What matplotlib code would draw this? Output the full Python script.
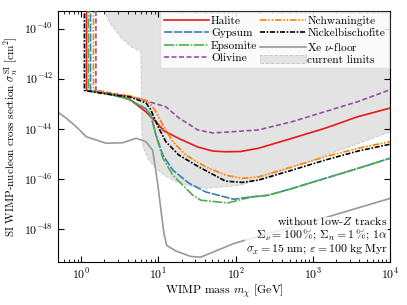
import numpy as np
import matplotlib
matplotlib.use("Agg")
import matplotlib.pyplot as plt
from matplotlib.patches import Patch

plt.rcParams['font.family'] = 'serif'
plt.rcParams['font.serif'] = ['cmr10', 'DejaVu Serif']
plt.rcParams['mathtext.fontset'] = 'cm'
plt.rcParams['axes.formatter.use_mathtext'] = True
plt.rcParams['axes.unicode_minus'] = False

# WIMP masses [GeV] and log10 cross sections [cm^2]
halite_m = [1.17, 1.17, 2.51, 4.16, 6.9, 8.0, 9.29, 11.8, 18.4, 32.3, 50.5, 74.3, 116, 198, 544, 1449, 3866, 10000]
halite_s = [-39.0, -42.46, -42.62, -42.80, -43.32, -43.52, -43.71, -44.08, -44.38, -44.72, -44.88, -44.91, -44.90, -44.77, -44.37, -43.97, -43.51, -43.17]

gypsum_m = [1.32, 1.32, 2.51, 4.16, 6.9, 8.0, 9.29, 11.4, 15.4, 24.8, 41.0, 94.2, 156, 267, 543, 1449, 3864, 10000]
gypsum_s = [-39.0, -42.48, -42.64, -42.82, -43.20, -43.44, -44.24, -45.04, -45.64, -46.16, -46.51, -46.80, -46.71, -46.64, -46.37, -45.97, -45.57, -45.17]

epsomite_m = [1.24, 1.24, 2.51, 4.16, 6.9, 8.0, 9.29, 11.4, 15.4, 20.7, 27.9, 35.3, 78.9, 156, 267, 543, 1449, 3864, 10000]
epsomite_s = [-39.0, -42.48, -42.64, -42.82, -43.20, -43.48, -44.24, -45.16, -45.84, -46.24, -46.64, -46.84, -46.95, -46.72, -46.64, -46.37, -45.97, -45.57, -45.17]

olivine_m = [1.55, 1.55, 2.51, 4.42, 6.9, 9.29, 12.5, 18.4, 32.4, 50.5, 74.3, 198, 543, 1449, 3864, 10000]
olivine_s = [-39.0, -42.46, -42.58, -42.71, -42.88, -43.00, -43.12, -43.56, -44.04, -44.16, -44.13, -44.04, -43.71, -43.31, -42.91, -42.44]

nchwan_m = [1.44, 1.44, 2.51, 4.16, 6.9, 8.24, 9.29, 11.4, 15.4, 22.6, 41.0, 74.3, 123, 198, 543, 1449, 3864, 10000]
nchwan_s = [-39.0, -42.46, -42.60, -42.68, -42.86, -43.08, -43.31, -43.84, -44.51, -45.04, -45.51, -45.84, -45.97, -45.91, -45.51, -45.11, -44.77, -44.51]

nickel_m = [1.10, 1.10, 2.51, 4.16, 6.9, 8.0, 8.49, 10.1, 12.5, 18.4, 33.3, 74.3, 123, 198, 543, 1449, 3864, 10000]
nickel_s = [-39.0, -42.47, -42.64, -42.72, -42.96, -43.24, -43.44, -43.96, -44.51, -45.04, -45.51, -46.08, -46.13, -46.04, -45.64, -45.24, -44.88, -44.61]

xe_m = [0.52, 0.64, 0.86, 1.16, 2.10, 3.45, 5.13, 6.90, 8.41, 9.02, 9.77, 10.8, 11.8, 12.8, 16.8, 26.2, 35.3, 94.2, 259, 690, 1841, 5047, 10000]
xe_s = [-43.37, -43.57, -43.91, -44.31, -44.57, -44.55, -44.37, -44.51, -44.84, -45.44, -46.16, -47.24, -48.16, -48.64, -48.86, -49.08, -49.11, -48.57, -48.17, -47.84, -47.44, -47.04, -46.77]

lim_m = [1.9, 1.98, 2.44, 3.28, 4.42, 5.95, 6.0, 6.1, 6.3, 7.54, 9.28, 11.8, 16.8, 26.3, 41.0, 58.6, 116, 210, 10000]
lim_s = [-39.0, -39.3, -39.84, -40.36, -40.72, -40.92, -42.0, -44.0, -44.7, -45.24, -45.56, -45.84, -46.08, -46.28, -46.36, -46.32, -46.24, -46.0, -44.12]

fig = plt.figure(figsize=(4.07, 3.05), dpi=100)
ax = fig.add_axes([0.1425, 0.141, 0.8155, 0.823])

ax.fill_between(lim_m, 10.0 ** np.array(lim_s), 1e-38, facecolor='#e3e3e3',
                edgecolor='#c8c8c8', linestyle='--', linewidth=0.7, zorder=1)

ax.plot(xe_m, 10.0 ** np.array(xe_s), color='#999999', lw=1.2, zorder=2)

ax.plot(olivine_m, 10.0 ** np.array(olivine_s), color='#984ea3', lw=1.2,
        linestyle=(0, (3, 1.5)), zorder=3)
ax.plot(halite_m, 10.0 ** np.array(halite_s), color='#e41a1c', lw=1.2, zorder=3)
ax.plot(nchwan_m, 10.0 ** np.array(nchwan_s), color='#ff7f00', lw=1.2,
        linestyle=(0, (4, 1, 1, 1, 1, 1)), zorder=3)
ax.plot(gypsum_m, 10.0 ** np.array(gypsum_s), color='#377eb8', lw=1.2,
        linestyle=(0, (5, 1)), zorder=3)
ax.plot(epsomite_m, 10.0 ** np.array(epsomite_s), color='#4daf4a', lw=1.2,
        linestyle=(0, (6, 1, 1, 1)), zorder=3)
ax.plot(nickel_m, 10.0 ** np.array(nickel_s), color='black', lw=1.2,
        linestyle=(0, (3, 1, 1, 1)), zorder=4)

ax.set_xscale('log')
ax.set_yscale('log')
ax.set_xlim(0.5, 1e4)
ax.set_ylim(5e-50, 5e-40)
ax.set_yticks([1e-48, 1e-46, 1e-44, 1e-42, 1e-40])
ax.yaxis.set_minor_locator(matplotlib.ticker.NullLocator())
ax.tick_params(which='both', direction='in', top=True, right=True, labelsize=8.5)
ax.tick_params(which='major', length=4)
ax.tick_params(which='minor', length=2)

ax.set_xlabel(r'WIMP mass $m_\chi$ [GeV]', fontsize=8.5, labelpad=0.5)
ax.set_ylabel(r'SI WIMP-nucleon cross section $\sigma_n^{\rm SI}$ [cm$^2$]', fontsize=8, labelpad=3)

handles = [
    plt.Line2D([], [], color='#e41a1c', lw=1.2),
    plt.Line2D([], [], color='#377eb8', lw=1.2, linestyle=(0, (5, 1))),
    plt.Line2D([], [], color='#4daf4a', lw=1.2, linestyle=(0, (6, 1, 1, 1))),
    plt.Line2D([], [], color='#984ea3', lw=1.2, linestyle=(0, (3, 1.5))),
    plt.Line2D([], [], color='#ff7f00', lw=1.2, linestyle=(0, (4, 1, 1, 1, 1, 1))),
    plt.Line2D([], [], color='black', lw=1.2, linestyle=(0, (3, 1, 1, 1))),
    plt.Line2D([], [], color='#999999', lw=1.2),
    Patch(facecolor='#e3e3e3', edgecolor='#c8c8c8', linestyle='--', linewidth=0.7),
]
labels = ['Halite', 'Gypsum', 'Epsomite', 'Olivine',
          'Nchwaningite', 'Nickelbischofite', r'Xe $\nu$-floor', 'current limits']
ax.legend(handles, labels, loc='upper right', ncol=2, fontsize=8.2,
          handlelength=4.0, handletextpad=0.15, columnspacing=0.25,
          labelspacing=0.22, borderpad=0.3, borderaxespad=0.1,
          fancybox=False, framealpha=0.85, edgecolor='#dddddd')

ax.text(0.993, 0.025,
        'without low-$Z$ tracks\n'
        r'$\Sigma_\nu = 100\,\%$; $\Sigma_n = 1\,\%$; $1\alpha$' '\n'
        r'$\sigma_x = 15\;\mathrm{nm}$; $\varepsilon = 100\;\mathrm{kg\;Myr}$',
        transform=ax.transAxes, ha='right', va='bottom', fontsize=8.5,
        linespacing=1.05, zorder=5,
        bbox=dict(facecolor='white', edgecolor='none', pad=0.5, alpha=0.8))

fig.savefig('out.png', dpi=100)
